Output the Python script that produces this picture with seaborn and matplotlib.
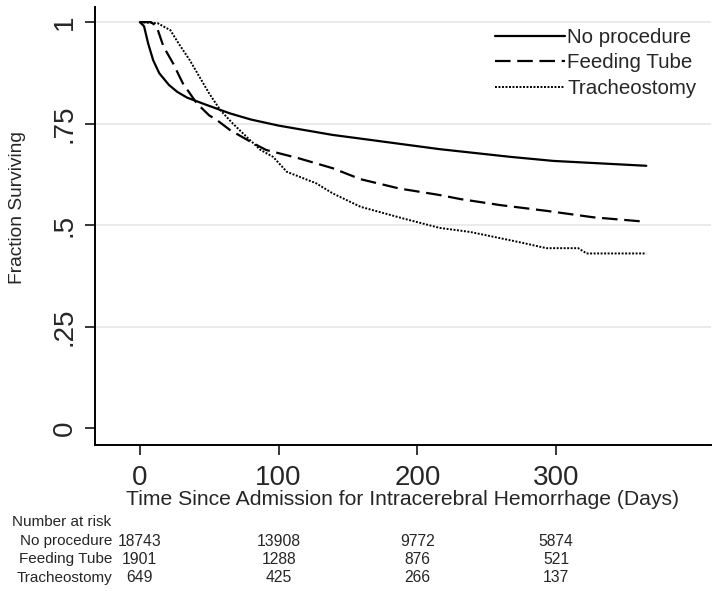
import pandas as pd
import seaborn as sns
import matplotlib.pyplot as plt
import matplotlib.transforms as mtransforms

# Kaplan-Meier curves
no_proc_days = [0, 3, 6, 9.6, 14, 21, 27, 34, 48, 65, 80, 100, 139, 159, 216, 267, 298, 365]
no_proc_surv = [1.0, 0.99, 0.947, 0.906, 0.874, 0.845, 0.828, 0.814, 0.796, 0.775, 0.760,
                0.745, 0.722, 0.713, 0.687, 0.668, 0.658, 0.646]

tube_days = [0, 8, 12, 17, 24, 31, 41, 50, 55, 65, 82, 91, 115, 139, 159, 187, 216, 231,
             260, 293, 327, 365]
tube_surv = [1.0, 1.0, 0.99, 0.94, 0.898, 0.849, 0.80, 0.770, 0.760, 0.734, 0.701, 0.685,
             0.664, 0.640, 0.613, 0.590, 0.574, 0.564, 0.549, 0.535, 0.519, 0.508]

trach_days = [0, 13, 22, 28, 36, 43, 50, 58, 67, 77, 87, 96, 106, 127, 139, 159, 190, 216,
              238, 255, 276, 293, 316, 322, 365]
trach_surv = [1.0, 0.997, 0.98, 0.947, 0.906, 0.865, 0.824, 0.783, 0.750, 0.717, 0.685,
              0.668, 0.631, 0.603, 0.578, 0.545, 0.516, 0.493, 0.483, 0.471, 0.456, 0.443,
              0.443, 0.430, 0.430]

groups = ["No procedure", "Feeding Tube", "Tracheostomy"]
risk_times = [0, 100, 200, 300]
risk_counts = [
    [18743, 13908, 9772, 5874],
    [1901, 1288, 876, 521],
    [649, 425, 266, 137],
]

y_ticks = [0, 0.25, 0.5, 0.75, 1]
y_tick_labels = ["0", ".25", ".5", ".75", "1"]
x_ticks = [0, 100, 200, 300]

sns.set_style("white")
plt.rcParams["font.family"] = ["Liberation Sans", "DejaVu Sans"]

fig = plt.figure(figsize=(7.19, 5.91), dpi=100)
ax = fig.add_axes([0.132, 0.247, 0.857, 0.741])

# light horizontal grid (not at 0)
for yv in y_ticks[1:]:
    ax.axhline(yv, color="#e8e8e8", lw=1.3, zorder=0)

styles = ["-", (0, (7, 3)), (0, (1, 0.8))]
widths = [1.6, 1.6, 1.4]
series = [(no_proc_days, no_proc_surv), (tube_days, tube_surv), (trach_days, trach_surv)]
for name, (d, s), ls, lw in zip(groups, series, styles, widths):
    df = pd.DataFrame({"day": d, "surv": s})
    sns.lineplot(data=df, x="day", y="surv", ax=ax, color="black", lw=lw,
                 linestyle=ls, label=name, estimator=None, sort=False)

ax.set_xlim(-32.4, 411.7)
ax.set_ylim(-0.042, 1.037)
ax.set_xticks(x_ticks)
ax.set_yticks(y_ticks)
ax.set_yticklabels(y_tick_labels)
for lab in ax.get_yticklabels():
    lab.set_rotation(90)
    lab.set_va("center")

for side in ["top", "right"]:
    ax.spines[side].set_visible(False)
for side in ["left", "bottom"]:
    ax.spines[side].set_color("black")
    ax.spines[side].set_linewidth(1.4)

ax.tick_params(axis="both", direction="out", length=7.2, width=1.1, color="black",
               labelsize=20, bottom=True, left=True)
ax.tick_params(axis="x", pad=7)
ax.tick_params(axis="y", pad=5)

ax.set_xlabel("Time Since Admission for Intracerebral Hemorrhage (Days)", fontsize=15.2)
ax.set_ylabel("Fraction Surviving", fontsize=13.8)
ax.xaxis.set_label_coords(0.5, -0.102)
ax.yaxis.set_label_coords(-0.112, 0.543)

ax.legend(frameon=False, loc="upper left", bbox_to_anchor=(0.688, 0.953),
          bbox_transform=fig.transFigure, fontsize=14.8, handlelength=3.4,
          handletextpad=0.12, labelspacing=0.32, borderpad=0, borderaxespad=0)

# number at risk table
tr = mtransforms.blended_transform_factory(ax.transData, fig.transFigure)
fig.text(0.017, 0.1168, "Number at risk", fontsize=11, va="center", ha="left")
row_y = [0.0846, 0.0541, 0.0220]
for name, counts, yy in zip(groups, risk_counts, row_y):
    fig.text(0.1558, yy, name, fontsize=11, va="center", ha="right")
    for t, c in zip(risk_times, counts):
        ax.text(t, yy, str(c), transform=tr, fontsize=11.3, va="center", ha="center",
                clip_on=False)

fig.savefig("out.png", dpi=100)
